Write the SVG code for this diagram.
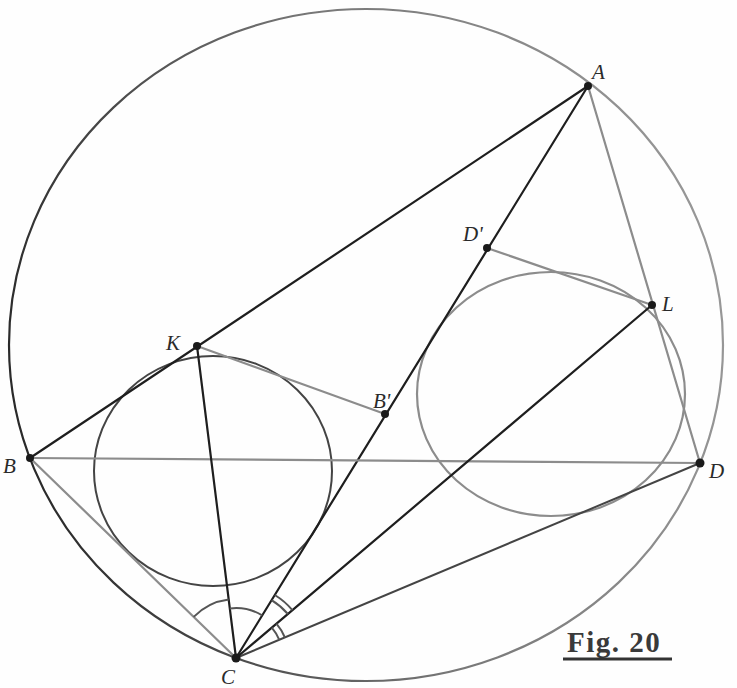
<svg xmlns="http://www.w3.org/2000/svg" width="737" height="688" viewBox="0 0 737 688">
<defs>
<linearGradient id="cg" x1="0" y1="0.5" x2="1" y2="0.3">
<stop offset="0" stop-color="#2a2a2a"/>
<stop offset="0.5" stop-color="#777"/>
<stop offset="1" stop-color="#999"/>
</linearGradient>
</defs>
<style>
.dark{stroke:#1e1e1e;stroke-width:2.2;fill:none;stroke-linecap:round}
.gray{stroke:#8c8c8c;stroke-width:2.2;fill:none;stroke-linecap:round}
.mid{stroke:#444;stroke-width:2;fill:none}
.arc{stroke:#555;stroke-width:2;fill:none}
.dot{fill:#1a1a1a}
.lbl{font-family:"Liberation Serif",serif;font-style:italic;font-size:21px;fill:#2a2a2a}
.fig{font-family:"Liberation Serif",serif;font-weight:bold;font-size:29px;fill:#3a3a3a;letter-spacing:1.5px}
</style>
<rect width="737" height="688" fill="#fefefe"/>
<g id="circles">
<ellipse id="circumcircle" cx="366" cy="345" rx="357" ry="336" fill="none" stroke="url(#cg)" stroke-width="2.2"/>
<ellipse id="incircle-ABC" cx="213" cy="471" rx="119" ry="115" class="mid"/>
<ellipse id="incircle-ACD" cx="551" cy="394" rx="134" ry="122" class="gray"/>
</g>
<g id="connectors">
<line class="dark" x1="30" y1="458" x2="588" y2="86"/>
<line class="dark" x1="236" y1="658" x2="588" y2="86"/>
<line class="gray" x1="588" y1="86" x2="700" y2="463"/>
<line class="gray" x1="30" y1="458" x2="700" y2="463"/>
<line class="gray" x1="30" y1="458" x2="236" y2="658"/>
<line class="mid" x1="236" y1="658" x2="700" y2="463"/>
<line class="dark" x1="236" y1="658" x2="197" y2="346"/>
<line class="dark" x1="236" y1="658" x2="652" y2="305"/>
<line class="gray" x1="197" y1="346" x2="385" y2="414"/>
<line class="gray" x1="487" y1="248" x2="652" y2="305"/>
</g>
<g id="angle-marks">
<path class="arc" d="M193.7,616.9 A59,59 0 0 1 228.7,599.5"/>
<path class="arc" d="M229.8,608.4 A50,50 0 0 1 262.2,615.4"/>
<path class="arc" d="M271.6,600.1 A68,68 0 0 1 287.9,614"/>
<path class="arc" d="M274.8,595 A74,74 0 0 1 292.4,610.1"/>
<path class="arc" d="M271.8,627.6 A47,47 0 0 1 279.3,639.8"/>
<path class="arc" d="M276.4,623.7 A53,53 0 0 1 284.9,637.5"/>
</g>
<g id="A"><circle class="dot" cx="588" cy="86" r="4"/><text class="lbl" x="592" y="79">A</text></g>
<g id="B"><circle class="dot" cx="30" cy="458" r="4"/><text class="lbl" x="3" y="473">B</text></g>
<g id="C"><circle class="dot" cx="236" cy="658" r="4.5"/><text class="lbl" x="221" y="684">C</text></g>
<g id="D"><circle class="dot" cx="700" cy="463" r="4.5"/><text class="lbl" x="709" y="478">D</text></g>
<g id="K"><circle class="dot" cx="197" cy="346" r="4"/><text class="lbl" x="166" y="350">K</text></g>
<g id="L"><circle class="dot" cx="652" cy="305" r="4"/><text class="lbl" x="662" y="311">L</text></g>
<g id="B-prime"><circle class="dot" cx="385" cy="414" r="4"/><text class="lbl" x="373" y="408">B'</text></g>
<g id="D-prime"><circle class="dot" cx="487" cy="248" r="4"/><text class="lbl" x="463" y="241">D'</text></g>
<g id="caption">
<text class="fig" x="567" y="652">Fig. 20</text>
<line x1="563" y1="659" x2="672" y2="659" stroke="#333" stroke-width="3"/>
</g>
</svg>
